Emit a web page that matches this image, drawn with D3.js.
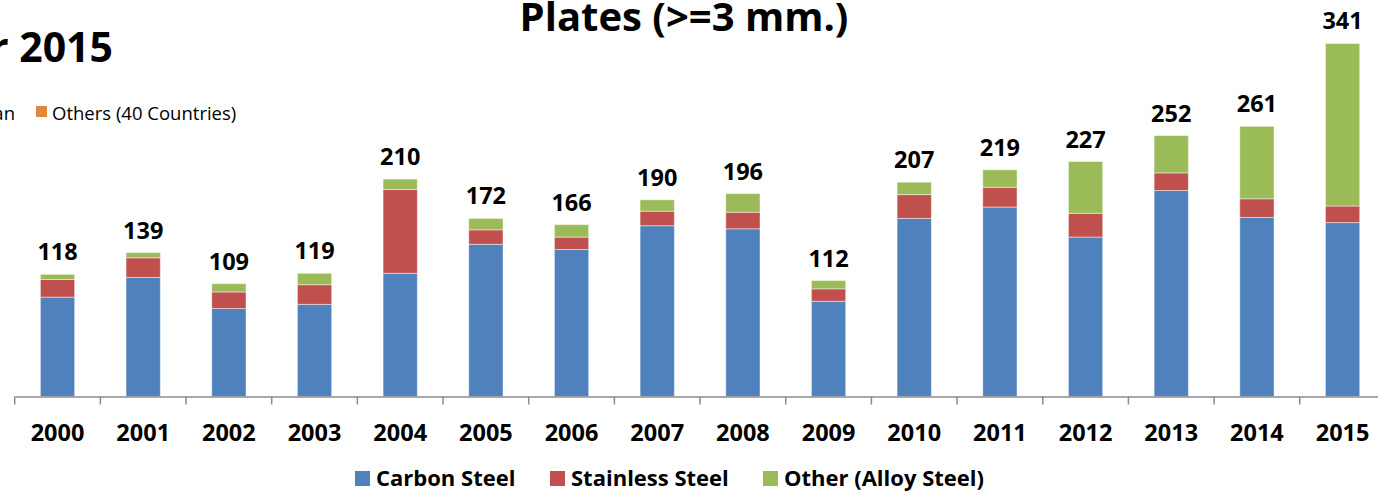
<!DOCTYPE html>
<html>
<head>
<meta charset="utf-8">
<script src="https://cdn.jsdelivr.net/npm/d3@7"></script>
<style>
  body { margin: 0; background: #fff; }
  svg { display: block; font-family: "Open Sans", sans-serif; }
</style>
</head>
<body>
<svg id="chart" width="1378" height="493"></svg>
<script>
// data
var years = ["2000", "2001", "2002", "2003", "2004", "2005", "2006", "2007",
             "2008", "2009", "2010", "2011", "2012", "2013", "2014", "2015"];
var carbon    = [96, 115, 85, 89, 119, 147, 142, 165, 162, 92, 172, 183, 154, 199, 173, 168];
var stainless = [17, 19, 16, 19, 81, 14, 12, 14, 16, 12, 23, 19, 23, 17, 18, 16];
var other     = [5, 5, 8, 11, 10, 11, 12, 11, 18, 8, 12, 17, 50, 36, 70, 157];
var seriesNames = ["Carbon Steel", "Stainless Steel", "Other (Alloy Steel)"];
var seriesColors = ["#4F81BD", "#C0504D", "#9BBB59"];

var svg = d3.select("#chart");

var rows = years.map(function (y, i) {
    return { year: y, "Carbon Steel": carbon[i], "Stainless Steel": stainless[i], "Other (Alloy Steel)": other[i] };
});

var x = d3.scaleBand()
          .domain(years)
          .range([14.7, 14.7 + 16 * 85.67]);

var y = d3.scaleLinear()
          .domain([0, 350])
          .range([396.5, 396.5 - 350 * 1.0352]);

var color = d3.scaleOrdinal().domain(seriesNames).range(seriesColors);

var stack = d3.stack().keys(seriesNames)(rows);
var barW = x.bandwidth() * 0.4;

svg.append("g")
   .selectAll("g")
   .data(stack)
   .enter()
   .append("g")
     .attr("fill", d => color(d.key))
   .selectAll("rect")
   .data(d => d)
   .enter()
   .append("rect")
     .attr("x", d => x(d.data.year) + (x.bandwidth() - barW) / 2)
     .attr("width", barW)
     .attr("y", d => y(d[1]))
     .attr("height", d => y(d[0]) - y(d[1]))
     .attr("stroke", "#ffffff")
     .attr("stroke-opacity", 0.45)
     .attr("stroke-width", 1);

// axis
var axis = svg.append("g")
              .attr("transform", "translate(0," + y(0) + ")")
              .call(d3.axisBottom(x).tickSize(0).tickPadding(28));
axis.select(".domain").attr("stroke", "#8c8c8c").attr("stroke-width", 1.5);
axis.selectAll("text")
    .attr("font-family", "Open Sans")
    .attr("font-weight", "bold")
    .attr("font-size", 23.5)
    .attr("fill", "#000");

svg.append("g")
   .selectAll("line")
   .data(years.concat(["end"]))
   .enter()
   .append("line")
     .attr("x1", (d, i) => x.range()[0] + i * x.step())
     .attr("x2", (d, i) => x.range()[0] + i * x.step())
     .attr("y1", y(0))
     .attr("y2", y(0) + 8)
     .attr("stroke", "#8c8c8c")
     .attr("stroke-width", 1.5);

// totals
svg.append("g")
   .selectAll("text")
   .data(rows)
   .enter()
   .append("text")
     .attr("x", d => x(d.year) + x.bandwidth() / 2)
     .attr("y", (d, i) => y(carbon[i] + stainless[i] + other[i]) - 14)
     .attr("text-anchor", "middle")
     .attr("font-weight", "bold")
     .attr("font-size", 23.5)
     .text((d, i) => carbon[i] + stainless[i] + other[i]);

// title
svg.append("text")
   .attr("x", 684)
   .attr("y", 31)
   .attr("text-anchor", "middle")
   .attr("font-weight", "bold")
   .attr("font-size", 40)
   .text("Plates (>=3 mm.)");

// cut-off pieces of the neighbouring chart
svg.append("text")
   .attr("x", 113)
   .attr("y", 62)
   .attr("text-anchor", "end")
   .attr("font-weight", "bold")
   .attr("font-size", 41)
   .text("r 2015");

svg.append("text")
   .attr("x", 15)
   .attr("y", 120)
   .attr("text-anchor", "end")
   .attr("font-size", 18.5)
   .text("an");
svg.append("rect")
   .attr("x", 36).attr("y", 106).attr("width", 11).attr("height", 11)
   .attr("fill", "#E0883E");
svg.append("text")
   .attr("x", 52)
   .attr("y", 120)
   .attr("font-size", 18.5)
   .text("Others (40 Countries)");

// legend
var legendX = [355, 550, 763];
var legend = svg.append("g")
                .selectAll("g")
                .data(seriesNames)
                .enter()
                .append("g")
                  .attr("transform", (d, i) => "translate(" + legendX[i] + ",0)");
legend.append("rect")
      .attr("y", 471).attr("width", 15).attr("height", 15)
      .attr("fill", d => color(d));
legend.append("text")
      .attr("x", 21)
      .attr("y", 486)
      .attr("font-weight", "bold")
      .attr("font-size", 22)
      .text(d => d);
</script>
</body>
</html>
